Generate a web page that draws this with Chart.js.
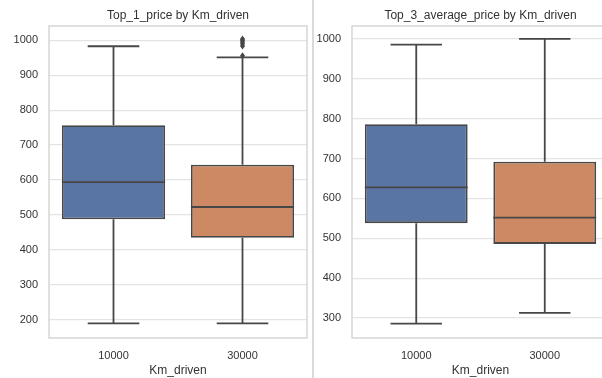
<!DOCTYPE html>
<html>
<head>
<meta charset="utf-8">
<script src="https://cdn.jsdelivr.net/npm/chart.js@4.4.1/dist/chart.umd.min.js"></script>
<style>
  body { margin: 0; width: 602px; height: 378px; overflow: hidden; background: #fff; position: relative; }
  #left { position: absolute; left: 0; top: 0; }
  #right { position: absolute; left: 314px; top: 0; }
  #sep { position: absolute; left: 312px; top: 0; width: 2px; height: 378px; background: #dadada; }
</style>
</head>
<body>
<canvas id="left" width="310" height="378"></canvas>
<div id="sep"></div>
<canvas id="right" width="300" height="378"></canvas>
<script>
// categories on the x axis
const categories = ["10000", "30000"];

// Top_1_price box stats
const top1Min = [190, 190];
const top1Q1 = [488, 435];
const top1Median = [594, 523];
const top1Q3 = [757, 644];
const top1Max = [983, 951];
const top1Outliers = [[], [956, 984, 990, 995, 1000, 1004]];

// Top_3_average_price box stats
const top3Min = [286, 313];
const top3Q1 = [538, 486];
const top3Median = [628, 552];
const top3Q3 = [786, 692];
const top3Max = [986, 1000];
const top3Outliers = [[], []];

const tickValues = [200, 300, 400, 500, 600, 700, 800, 900, 1000];

const boxColors = ["#5975a4", "#cc8963"];
const lineColor = "#474747";
const textColor = "#333333";
const fontFamily = "'Liberation Sans', Arial, sans-serif";

// draws whiskers, medians, outliers, the plot frame and the title
const boxPlugin = {
  id: "boxExtras",
  beforeDatasetsDraw(chart) {
    const a = chart.chartArea;
    const ctx = chart.ctx;
    ctx.save();
    ctx.strokeStyle = "#d6d6d6";
    ctx.lineWidth = 1.5;
    ctx.strokeRect(a.left, a.top, a.right - a.left, a.bottom - a.top);
    ctx.restore();
  },
  afterDatasetsDraw(chart) {
    const st = chart.options.plugins.boxExtras;
    const x = chart.scales.x;
    const y = chart.scales.y;
    const ctx = chart.ctx;
    const bars = chart.getDatasetMeta(0).data;
    ctx.save();
    ctx.strokeStyle = lineColor;
    ctx.lineWidth = 1.8;
    categories.forEach((c, i) => {
      const xc = x.getPixelForValue(i);
      const w = bars[i].width;
      //whiskers
      ctx.beginPath();
      ctx.moveTo(xc, y.getPixelForValue(st.q3[i]));
      ctx.lineTo(xc, y.getPixelForValue(st.max[i]));
      ctx.moveTo(xc, y.getPixelForValue(st.q1[i]));
      ctx.lineTo(xc, y.getPixelForValue(st.min[i]));
      //caps
      ctx.moveTo(xc - w / 4, y.getPixelForValue(st.max[i]));
      ctx.lineTo(xc + w / 4, y.getPixelForValue(st.max[i]));
      ctx.moveTo(xc - w / 4, y.getPixelForValue(st.min[i]));
      ctx.lineTo(xc + w / 4, y.getPixelForValue(st.min[i]));
      //median
      ctx.moveTo(xc - w / 2, y.getPixelForValue(st.median[i]));
      ctx.lineTo(xc + w / 2, y.getPixelForValue(st.median[i]));
      ctx.stroke();
      //outliers as diamonds
      ctx.fillStyle = lineColor;
      st.outliers[i].forEach((v) => {
        const py = y.getPixelForValue(v);
        ctx.beginPath();
        ctx.moveTo(xc, py - 3.5);
        ctx.lineTo(xc + 2.5, py);
        ctx.lineTo(xc, py + 3.5);
        ctx.lineTo(xc - 2.5, py);
        ctx.closePath();
        ctx.fill();
      });
    });
    ctx.restore();
  },
  afterDraw(chart) {
    const st = chart.options.plugins.boxExtras;
    const a = chart.chartArea;
    const ctx = chart.ctx;
    ctx.save();
    ctx.fillStyle = textColor;
    ctx.font = "12px " + fontFamily;
    ctx.textAlign = "center";
    ctx.textBaseline = "middle";
    ctx.fillText(st.title, (a.left + a.right) / 2, a.top - 10);
    ctx.restore();
  },
};

function buildBoxChart(canvasId, stats, yMin, yMax, yWidth, padRight) {
  const boxes = categories.map((c, i) => [stats.q1[i], stats.q3[i]]);
  return new Chart(document.getElementById(canvasId), {
    type: "bar",
    data: {
      labels: categories,
      datasets: [
        {
          data: boxes,
          backgroundColor: boxColors,
          borderColor: lineColor,
          borderWidth: 1.8,
          borderSkipped: false,
          categoryPercentage: 1,
          barPercentage: 0.8,
        },
      ],
    },
    options: {
      responsive: false,
      animation: false,
      devicePixelRatio: 1,
      layout: { padding: { top: 26, right: padRight, left: 0, bottom: 0 } },
      plugins: {
        legend: { display: false },
        tooltip: { enabled: false },
        boxExtras: stats,
      },
      scales: {
        x: {
          grid: { display: false },
          border: { display: false },
          ticks: { color: textColor, font: { family: fontFamily, size: 11 }, padding: 3 },
          title: {
            display: true,
            text: "Km_driven",
            color: textColor,
            font: { family: fontFamily, size: 12 },
            padding: { top: 0, bottom: 0 },
          },
          afterFit: (s) => {
            s.height = 40;
          },
        },
        y: {
          min: yMin,
          max: yMax,
          afterBuildTicks: (s) => {
            s.ticks = tickValues.filter((v) => v >= yMin && v <= yMax).map((v) => ({ value: v }));
          },
          grid: { color: "#e4e4e4", lineWidth: 1.3, drawTicks: false },
          border: { display: false },
          ticks: {
            color: textColor,
            font: { family: fontFamily, size: 11 },
            padding: 11,
            callback: (v) => String(v),
          },
          afterFit: (s) => {
            s.width = yWidth;
          },
        },
      },
    },
    plugins: [boxPlugin],
  });
}

buildBoxChart(
  "left",
  { title: "Top_1_price by Km_driven", min: top1Min, q1: top1Q1, median: top1Median, q3: top1Q3, max: top1Max, outliers: top1Outliers },
  148, 1041, 49, 3
);
buildBoxChart(
  "right",
  { title: "Top_3_average_price by Km_driven", min: top3Min, q1: top3Q1, median: top3Median, q3: top3Q3, max: top3Max, outliers: top3Outliers },
  250, 1032.5, 38, 5
);
</script>
</body>
</html>
